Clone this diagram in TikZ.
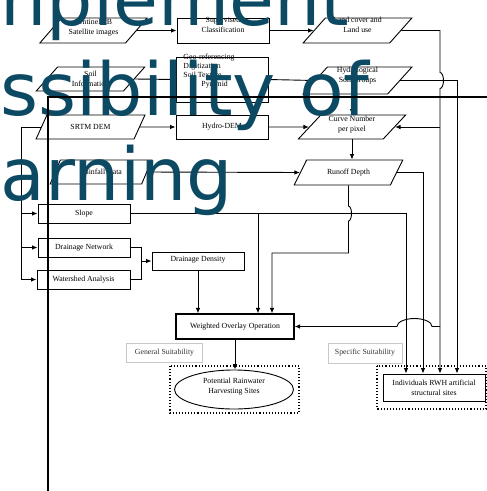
\documentclass[tikz,border=0pt]{standalone}
\usepackage{fontspec}
\setmainfont{Liberation Serif}
\newfontfamily\bigsans{DejaVu Sans}
\usepackage{xcolor}
\usetikzlibrary{shapes.geometric,arrows.meta}
\definecolor{overlayteal}{RGB}{12,74,100}
\definecolor{boxgray}{RGB}{200,200,200}
\tikzset{
  proc/.style={draw, rectangle, minimum width=92, minimum height=25, inner sep=1pt, align=center},
  data/.style={draw, trapezium, trapezium left angle=54, trapezium right angle=126,
    trapezium stretches=true, minimum width=108, minimum height=25, inner sep=1pt, align=center},
  suit/.style={draw=boxgray, rectangle, minimum width=76, minimum height=19, inner sep=1pt, text=black!80},
  lifted/.style={text height=13pt, text depth=9pt},
  halflifted/.style={text height=15pt, text depth=7pt},
  arr/.style={-{Latex[length=5.5pt,width=4.5pt]}},
  overlay text/.style={anchor=base west, inner sep=0pt, text=overlayteal,
    font=\bigsans\fontsize{73}{80}\selectfont},
}

\begin{document}
\begin{tikzpicture}[x=1pt, y=-1pt, font=\fontsize{7.8}{10}\selectfont, line width=0.9]
\useasboundingbox (0,0) rectangle (487,491);

% inputs and intermediate layers
\node[data, halflifted] (sent) at (93.5,30.5) {Sentinel-2B\\Satellite images};
\node[proc, lifted] (superv) at (223,30.5) {Supervised\\Classification};
\node[data, lifted, minimum width=109] (landuse) at (357.5,30.5) {Land cover and\\Land use};
\node[data, minimum width=109, minimum height=24] (soil) at (90.5,79) {Soil\\Information};
\node[proc, minimum height=45] (geo) at (222,79.5) {};
\node[anchor=north west, align=left, inner sep=0pt, font=\fontsize{7.8}{9}\selectfont] (geotxt) at (183,53.5)
  {Geo-referencing\\Digitization\\Soil Texture\\\hspace{18pt}Pyramid};
\node[data, lifted, minimum width=109, minimum height=27] (hsg) at (357.5,80.5) {Hydrological\\Soil Groups};
\node[data, minimum width=109, minimum height=24] (srtm) at (90.5,127) {SRTM DEM};
\node[proc, minimum height=24] (hdem) at (222,127) {Hydro-DEM};
\node[data, halflifted, minimum height=24] (cn) at (352,127) {Curve Number\\per pixel};
\node[data, minimum width=102, minimum height=24] (rain) at (101,172) {Rainfall Data};
\node[data, minimum width=109] (runoff) at (348.5,172.5) {Runoff Depth};

% terrain layers
\node[proc, minimum height=19] (slope) at (84,213.5) {Slope};
\node[proc, minimum height=19] (dnet) at (84,247.5) {Drainage Network};
\node[proc, minimum width=93, minimum height=19] (wshed) at (83.5,279.5) {Watershed Analysis};
\node[proc, minimum height=18] (ddens) at (198,261) {\raisebox{4pt}{Drainage Density}};

% overlay and results
\node[proc, minimum width=118, line width=1.1] (wo) at (235,326.5) {Weighted Overlay Operation};
\node[suit] (gensuit) at (164.5,352.5) {General Suitability};
\node[suit, minimum width=74, minimum height=20] (specsuit) at (365,353) {Specific Suitability};
\node[draw, ellipse, halflifted, minimum width=119, minimum height=39, inner sep=0pt, align=center] (pot) at (234,389.5)
  {Potential Rainwater\\Harvesting Sites};
\node[proc, minimum width=102, minimum height=27] (rwh) at (434,387.5) {Individuals RWH artificial\\structural sites};
\draw[dotted, line width=1.1] (170,366) rectangle (299,413);
\draw[dotted, line width=1.1] (377,366) rectangle (486,409);

% columns of the connectors
\coordinate (bus) at (21,0);
\coordinate (dj) at (141,0);
\coordinate (c0) at (258,0);
\coordinate (c5) at (272,0);
\coordinate (c1) at (406,0);
\coordinate (c2) at (423,0);
\coordinate (c3) at (440,0);
\coordinate (c4) at (457,0);

\draw[arr] (sent.east) -- (superv.west);
\draw[arr] (superv.east) -- (landuse.west);
\draw[arr] (soil.east) -- (geo.west);
\draw[arr] (geo.east) -- (hsg.west);
\draw[arr] (srtm.east) -- (hdem.west);
\draw[arr] (hdem.east) -- (cn.west);
\draw[arr] (cn.north |- hsg.south) -- (cn.north);
\draw[arr] (cn.south) -- (cn.south |- runoff.north);
\draw[arr] (rain.east) -- (runoff.west);

% land use column with jump
\draw[arr] (landuse.east) -- (c3 |- landuse.east) -- (c3 |- 0,72.5)
  arc[start angle=-90, end angle=90, x radius=3.5, y radius=8] -- (c3 |- rwh.north);
\draw[arr] (c3 |- cn.east) -- (cn.east);
\draw[arr] (c3 |- wo.east) -- (432,326.5)
  arc[start angle=0, end angle=-180, x radius=17.5, y radius=8] -- (wo.east);
\draw[arr] (hsg.east) -| (c4 |- rwh.north);
\draw[arr] (runoff.east) -| (c2 |- rwh.north);
\draw[arr] (slope.east) -| (c1 |- rwh.north);
\draw[arr] (c0 |- slope.east) -- (c0 |- wo.north);
\draw[arr] (runoff.south) -- (runoff.south |- 0,206)
  arc[start angle=-90, end angle=90, x radius=3, y radius=7.5] -- (runoff.south |- 0,253) -| (c5 |- wo.north);

% terrain branch
\draw (srtm.west) -- (bus |- srtm.west) -- (bus |- wshed.west);
\foreach \n in {slope,dnet,wshed}
  \draw[arr] (bus |- \n.west) -- (\n.west);
\draw (dnet.east) -- (dj |- dnet.east) -- (dj |- wshed.east) -- (wshed.east);
\draw[arr] (dj |- ddens.west) -- (ddens.west);
\draw[arr] (ddens.south) -- (ddens.south |- wo.north);
\draw[arr] (wo.south) -- (wo.south |- pot.north);

% overlaid page text and rules
\node[overlay text] (ovl1) at (0,25) {nplement};
\node[overlay text] (ovl2) at (0,115) {ssibility of};
\node[overlay text] (ovl3) at (0,200) {arning};
\draw[line width=1.1] (48,491) -- (48,97) -- (487,97);
\end{tikzpicture}
\end{document}
